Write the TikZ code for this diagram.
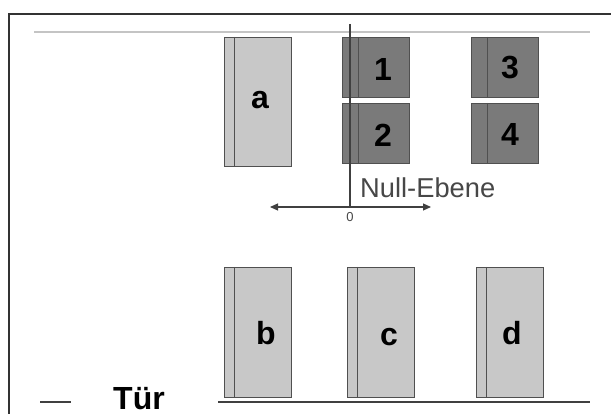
\documentclass[tikz,border=0pt]{standalone}
\usepackage{fontspec}
\setmainfont{Liberation Sans}
\usetikzlibrary{arrows.meta}
\definecolor{lightbox}{HTML}{C8C8C8}
\definecolor{darkbox}{HTML}{7A7A7A}
\definecolor{boxedge}{HTML}{505050}
\definecolor{frameline}{HTML}{333333}
\definecolor{topline}{HTML}{C4C4C4}
\definecolor{axisline}{HTML}{404040}
\definecolor{textgray}{HTML}{474747}
\tikzset{
  tallbox/.style={draw=boxedge, line width=1pt, fill=lightbox, minimum width=67pt, minimum height=129pt, inner sep=0pt, anchor=north west},
  sqbox/.style={draw=boxedge, line width=1pt, fill=darkbox, minimum width=67pt, minimum height=60pt, inner sep=0pt, anchor=north west},
  strip/.style={draw=boxedge, line width=1pt},
  boxlabel/.style={font=\bfseries\fontsize{32}{36}\selectfont, text=black, inner sep=0pt},
}
\begin{document}
\begin{tikzpicture}[x=1pt,y=-1pt]
\useasboundingbox (0,0) rectangle (611,414);
\fill[white] (0,0) rectangle (611,414);
% frame
\coordinate (fr1) at (611,14);
\coordinate (fr2) at (9,14);
\coordinate (fr3) at (9,414);
\draw[frameline, line width=1.3pt] (fr1) -- (fr2) -- (fr3);
% top gray line
\coordinate (tl1) at (34,32);
\coordinate (tl2) at (590,32);
\draw[topline, line width=2pt] (tl1) -- (tl2);
% top row boxes
\node[tallbox] (boxa) at (224,37) {};
\node[sqbox] (box1) at (342,37) {};
\node[sqbox] (box2) at (342,103) {};
\node[sqbox] (box3) at (471,37) {};
\node[sqbox] (box4) at (471,103) {};
% bottom row boxes
\node[tallbox, minimum height=130pt] (boxb) at (224,267) {};
\node[tallbox, minimum height=130pt] (boxc) at (347,267) {};
\node[tallbox, minimum height=130pt] (boxd) at (476,267) {};
% strips
\draw[strip] ([xshift=10.5pt]boxa.north west) -- ([xshift=10.5pt]boxa.south west);
\draw[strip] ([xshift=16pt]box1.north west) -- ([xshift=16pt]box1.south west);
\draw[strip] ([xshift=16pt]box2.north west) -- ([xshift=16pt]box2.south west);
\draw[strip] ([xshift=16pt]box3.north west) -- ([xshift=16pt]box3.south west);
\draw[strip] ([xshift=16pt]box4.north west) -- ([xshift=16pt]box4.south west);
\draw[strip] ([xshift=10.5pt]boxb.north west) -- ([xshift=10.5pt]boxb.south west);
\draw[strip] ([xshift=10.5pt]boxc.north west) -- ([xshift=10.5pt]boxc.south west);
\draw[strip] ([xshift=10pt]boxd.north west) -- ([xshift=10pt]boxd.south west);
% labels
\node[boxlabel] (la) at (260,100) {a};
\node[boxlabel] (l1) at (383,69) {1};
\node[boxlabel] (l2) at (383,135) {2};
\node[boxlabel] (l3) at (510,68) {3};
\node[boxlabel] (l4) at (510,134) {4};
\node[boxlabel] (lb) at (266,333) {b};
\node[boxlabel] (lc) at (389,337) {c};
\node[boxlabel] (ld) at (512,333) {d};
% zero plane axis
\coordinate (vtop) at (350,24);
\coordinate (origin) at (350,207);
\coordinate (axl) at (270,207);
\coordinate (axr) at (431,207);
\draw[axisline, line width=1.1pt] (vtop) -- (origin);
\draw[axisline, line width=1.1pt, {Triangle[length=8pt,width=7pt]}-{Triangle[length=8pt,width=7pt]}] (axl) -- (axr);
\node[text=textgray, font=\fontsize{13}{15}\selectfont, inner sep=0pt] (zero) at (350,217) {0};
\node[text=textgray, font=\fontsize{27.3}{31}\selectfont, inner sep=0pt, anchor=base west] (null) at (360,198) {Null-Ebene};
% bottom line and legend
\coordinate (bl1) at (218,402);
\coordinate (bl2) at (590,402);
\draw[axisline, line width=1.1pt] (bl1) -- (bl2);
\coordinate (d1) at (40,402);
\coordinate (d2) at (71,402);
\draw[axisline, line width=1.1pt] (d1) -- (d2);
\node[font=\bfseries\fontsize{32}{38}\selectfont, inner sep=0pt, text depth=0pt, anchor=base west] (tuer) at (113,409) {Tür};
\end{tikzpicture}
\end{document}
